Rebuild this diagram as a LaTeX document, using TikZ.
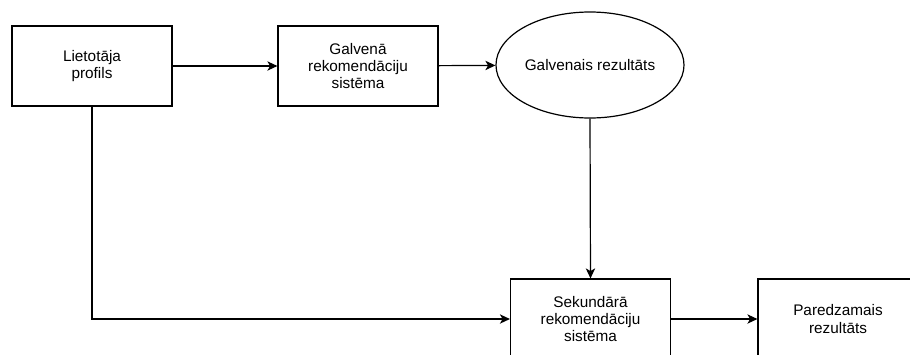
\documentclass[tikz,border=0pt]{standalone}
\usepackage{fontspec}
\setmainfont{Liberation Sans}
\usetikzlibrary{arrows.meta,shapes.geometric}
\begin{document}
\begin{tikzpicture}[x=.75pt,y=-.75pt,line width=.9pt,
box/.style={draw,minimum width=120pt,minimum height=60pt,align=center,inner sep=0pt,font=\fontsize{11.5}{13}\selectfont},
oval/.style={draw,ellipse,minimum width=141pt,minimum height=79.5pt,inner sep=0pt,font=\fontsize{11.5}{13}\selectfont},
flow/.style={-{Stealth[length=7.5pt,width=7pt,inset=2pt]}}]
\clip(0,0) rectangle (910,354);
\node[box](profils)at(92,66){Lietotāja\\profils};
\node[box](galvena)at(358,66){Galvenā\\rekomendāciju\\sistēma};
\node[oval](galvrez)at(590,65){Galvenais rezultāts};
\node[box](sekundara)at(590.5,319){Sekundārā\\rekomendāciju\\sistēma};
\node[box](paredzamais)at(838,319){Paredzamais\\rezultāts};
\draw[flow](profils)--(galvena);\draw[flow](galvena)--(galvrez);
\draw[flow](galvrez.south)--(sekundara.north);
\draw[flow](profils.south)|-(sekundara.west);\draw[flow](sekundara)--(paredzamais);
\end{tikzpicture}
\end{document}
